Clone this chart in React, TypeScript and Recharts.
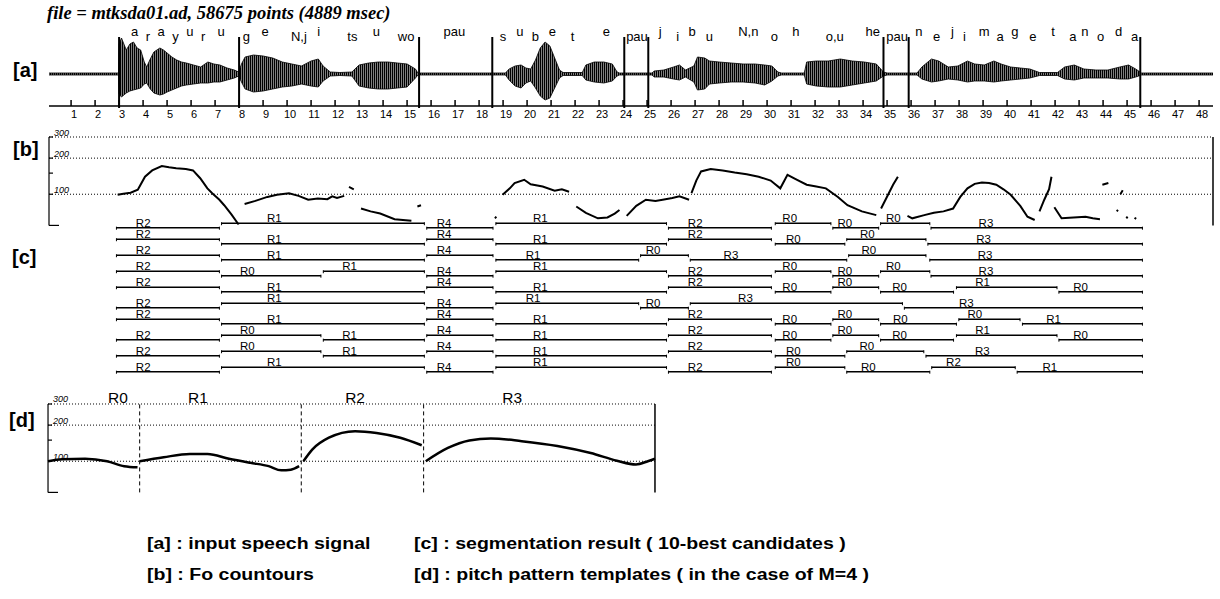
import React from "react";
import {
  ComposedChart,
  Area,
  Line,
  Scatter,
  XAxis,
  YAxis,
  ReferenceLine,
} from "recharts";

const SANS = "'Liberation Sans', Arial, Helvetica, sans-serif";
const SERIF = "'Liberation Serif', 'Times New Roman', serif";

// time axis of the utterance
const timeTicks = [
  1, 2, 3, 4, 5, 6, 7, 8, 9, 10, 11, 12, 13, 14, 15, 16, 17, 18, 19, 20, 21, 22, 23, 24,
  25, 26, 27, 28, 29, 30, 31, 32, 33, 34, 35, 36, 37, 38, 39, 40, 41, 42, 43, 44, 45, 46, 47, 48,
];

// [t, upper, lower] envelope of the speech waveform
const waveEnvelope: [number, number, number][] = [
  [0.08, 1, 1], [2.98, 1, 1], [3.0, 30, 20], [3.1, 36, 23], [3.3, 24, 19], [3.45, 30, 17],
  [3.6, 32, 16], [3.75, 26, 15], [3.9, 24, 14], [4.05, 12, 10], [4.15, 7, 9], [4.3, 15, 15],
  [4.45, 22, 19], [4.7, 26, 21], [4.85, 24, 20], [5.0, 21, 18], [5.2, 17, 16], [5.4, 14, 14],
  [5.6, 12, 12], [5.8, 11, 11], [6.1, 9, 10], [6.4, 7, 9], [6.7, 12, 9], [6.95, 10, 8],
  [7.2, 9, 8], [7.5, 6, 6], [7.8, 4, 4], [7.98, 2, 2],
  [8.1, 10, 8], [8.25, 17, 15], [8.6, 19, 18], [9.0, 18, 17], [9.4, 16, 15], [9.8, 12, 13],
  [10.2, 10, 12], [10.6, 8, 10], [11.0, 13, 12], [11.3, 15, 13], [11.5, 8, 7], [11.8, 2, 2],
  [12.2, 1.5, 1.5], [12.7, 2, 2], [13.0, 9, 12], [13.4, 11, 14], [13.8, 12, 15], [14.2, 12, 15],
  [14.6, 11, 14], [15.0, 10, 13], [15.35, 5, 4], [15.45, 1, 1],
  [19.1, 1, 1], [19.25, 5, 6], [19.5, 8, 12], [19.75, 9, 14], [19.95, 6, 9], [20.15, 5, 7],
  [20.35, 14, 14], [20.55, 26, 22], [20.75, 32, 26], [20.95, 28, 24], [21.15, 16, 14],
  [21.35, 4, 4], [21.5, 1.5, 1.5], [22.3, 1.5, 1.5], [22.45, 9, 6], [22.8, 12, 8], [23.2, 12, 9],
  [23.55, 10, 7], [23.75, 2, 2], [23.85, 1, 1],
  [25.2, 1, 1], [25.3, 3, 3], [25.7, 4, 3], [26.1, 7, 5], [26.35, 9, 6], [26.6, 4, 3],
  [26.95, 8, 8], [27.1, 17, 16], [27.4, 16, 15], [27.6, 13, 10], [28.0, 12, 9], [28.5, 11, 8],
  [29.0, 10, 8], [29.5, 10, 9], [29.9, 9, 11], [30.2, 8, 7], [30.45, 2, 2], [30.6, 1, 1],
  [31.55, 1, 1], [31.65, 12, 10], [32.05, 13, 12], [32.55, 13, 13], [33.05, 15, 13],
  [33.55, 13, 11], [34.05, 12, 9], [34.55, 10, 7], [34.85, 2, 2], [35.0, 1, 1],
  [36.25, 1, 1], [36.45, 7, 5], [36.85, 15, 8], [37.15, 13, 7], [37.55, 7, 5], [37.95, 8, 6],
  [38.35, 13, 8], [38.65, 10, 7], [39.05, 9, 7], [39.45, 13, 8], [39.75, 10, 7], [40.15, 7, 6],
  [40.55, 6, 5], [40.95, 5, 4], [41.35, 1.5, 1.5], [42.1, 1.5, 1.5], [42.4, 7, 5], [42.8, 9, 6],
  [43.2, 5, 4], [43.7, 4, 4], [44.2, 4, 4], [44.7, 7, 5], [45.06, 9, 5], [45.36, 5, 3],
  [45.6, 1, 1], [48.58, 1, 1],
];

// phoneme labels: [text, t, row (1 = upper, 0 = lower)]
const phonemes: [string, number, number][] = [
  ["a", 3.65, 1], ["r", 4.2, 0], ["a", 4.75, 1], ["y", 5.35, 0], ["u", 5.95, 1], ["r", 6.5, 0],
  ["u", 7.25, 1], ["g", 8.3, 0], ["e", 9.09, 1], ["N,j", 10.49, 0], ["i", 11.32, 1],
  ["ts", 12.72, 0], ["u", 13.72, 1], ["wo", 14.96, 0], ["pau", 16.97, 1], ["s", 19.0, 0],
  ["u", 19.7, 1], ["b", 20.35, 0], ["e", 21.05, 1], ["t", 21.9, 0], ["e", 23.3, 1],
  ["pau", 24.58, 0], ["j", 25.55, 1], ["i", 26.28, 0], ["b", 26.88, 1], ["u", 27.6, 0],
  ["N,n", 29.22, 1], ["o", 30.3, 0], ["h", 31.2, 1], ["o,u", 32.82, 0], ["he", 34.4, 1],
  ["pau", 35.42, 0], ["n", 36.32, 1], ["e", 37.06, 0], ["j", 37.72, 1], ["i", 38.22, 0],
  ["m", 39.05, 1], ["a", 39.71, 0], ["g", 40.32, 1], ["e", 41.07, 0], ["t", 41.92, 1],
  ["a", 42.74, 0], ["n", 43.24, 1], ["o", 43.9, 0], ["d", 44.65, 1], ["a", 45.31, 0],
];

const phraseBounds = [3.0, 8.0, 15.5, 18.55, 24.05, 25.05, 34.85, 35.9, 45.55];

// F0 contour [t, Hz]; null breaks the track
const f0Track: ([number, number] | null)[] = [
  [2.94, 99], [3.18, 101], [3.48, 103], [3.78, 109], [4.08, 140], [4.38, 158], [4.78, 172],
  [5.08, 168], [5.38, 165], [5.78, 162], [6.08, 158], [6.38, 136], [6.68, 112], [6.88, 102],
  [7.18, 90], [7.38, 81], [7.68, 68], [7.98, 56], null,
  [8.23, 83], [8.68, 88], [9.18, 95], [9.58, 99], [10.08, 102], [10.48, 97], [10.88, 90],
  [11.28, 92], [11.68, 91], [11.88, 96], [12.08, 93], [12.38, 97], null,
  [12.58, 115], [12.78, 110], null,
  [13.08, 76], [13.48, 72], [13.88, 69], [14.48, 62], [15.18, 60], null,
  [15.43, 79], [15.58, 81], null,
  [18.66, 63], [18.72, 65], null,
  [18.98, 99], [19.28, 112], [19.48, 124], [19.88, 132], [20.15, 121], [20.65, 116],
  [21.15, 107], [21.45, 110], [21.75, 105], null,
  [22.05, 79], [22.45, 70], [22.95, 63], [23.35, 64], [23.65, 69], [23.85, 74], null,
  [24.15, 66], [24.55, 80], [24.95, 90], [25.35, 88], [25.65, 90], [26.05, 93], [26.35, 96],
  [26.75, 90], null,
  [26.85, 102], [27.05, 130], [27.25, 155], [27.65, 162], [28.15, 158], [28.65, 152],
  [29.15, 147], [29.65, 140], [30.15, 130], [30.55, 112], [30.85, 145], [31.25, 132],
  [31.65, 120], [32.05, 116], [32.45, 112], [32.95, 95], [33.35, 81], [33.95, 72], [34.55, 67], null,
  [34.75, 76], [35.05, 100], [35.25, 120], [35.45, 140], null,
  [35.85, 66], [36.05, 63], [36.55, 67], [36.95, 70], [37.35, 72], [37.75, 76], [38.05, 95],
  [38.35, 112], [38.65, 122], [38.95, 125], [39.25, 124], [39.55, 120], [39.85, 110],
  [40.15, 99], [40.55, 80], [40.85, 65], [41.15, 61], null,
  [41.35, 72], [41.55, 90], [41.75, 110], [41.85, 140], null,
  [41.97, 78], [42.27, 63], [42.77, 64], [43.27, 65], [43.57, 63], [43.87, 62], null,
  [43.97, 120], [44.22, 124], null,
  [44.57, 72], [44.62, 74], null,
  [44.72, 100], [44.82, 108], null,
  [44.97, 63], [45.02, 65], null,
  [45.32, 62], [45.37, 64],
];

const hzTicks = [55, 100, 150, 200, 300];
const hzLabels = [100, 200, 300];
const hzGrid = [100, 200, 300];

// 10-best segmentation: [template, start, end]
const nbest: [string, number, number][][] = [
  [["R2", 2.89, 7.18], ["R1", 7.27, 15.72], ["R4", 15.82, 18.58], ["R1", 18.7, 25.81], ["R2", 25.89, 30.18], ["R0", 30.34, 32.66], ["R0", 32.74, 34.65], ["R0", 34.73, 36.78], ["R3", 36.83, 45.64]],
  [["R2", 2.89, 7.18], ["R1", 7.27, 15.72], ["R4", 15.82, 18.58], ["R1", 18.7, 25.81], ["R2", 25.89, 30.18], ["R0", 30.34, 33.24], ["R0", 33.32, 36.62], ["R3", 36.7, 45.64]],
  [["R2", 2.89, 7.18], ["R1", 7.27, 15.72], ["R4", 15.82, 18.58], ["R1", 18.7, 24.65], ["R0", 24.73, 26.72], ["R3", 26.8, 33.32], ["R0", 33.4, 36.62], ["R3", 36.78, 45.64]],
  [["R2", 2.89, 7.18], ["R0", 7.27, 11.41], ["R1", 11.51, 15.72], ["R4", 15.82, 18.58], ["R1", 18.7, 25.81], ["R2", 25.89, 30.18], ["R0", 30.34, 32.66], ["R0", 32.74, 34.65], ["R0", 34.73, 36.78], ["R3", 36.83, 45.64]],
  [["R2", 2.89, 7.18], ["R1", 7.27, 15.72], ["R4", 15.82, 18.58], ["R1", 18.7, 25.81], ["R2", 25.89, 30.18], ["R0", 30.34, 32.66], ["R0", 32.74, 34.65], ["R0", 34.73, 37.77], ["R1", 37.89, 42.08], ["R0", 42.16, 45.64]],
  [["R2", 2.89, 7.18], ["R1", 7.27, 15.72], ["R4", 15.82, 18.58], ["R1", 18.7, 24.65], ["R0", 24.73, 26.72], ["R3", 26.8, 35.64], ["R3", 35.72, 45.64]],
  [["R2", 2.89, 7.18], ["R1", 7.27, 15.72], ["R4", 15.82, 18.58], ["R1", 18.7, 25.81], ["R2", 25.89, 30.18], ["R0", 30.34, 32.66], ["R0", 32.74, 34.65], ["R0", 34.73, 37.89], ["R0", 37.99, 40.54], ["R1", 40.64, 45.64]],
  [["R2", 2.89, 7.18], ["R0", 7.27, 11.41], ["R1", 11.51, 15.72], ["R4", 15.82, 18.58], ["R1", 18.7, 25.81], ["R2", 25.89, 30.18], ["R0", 30.34, 32.66], ["R0", 32.74, 34.65], ["R0", 34.73, 37.77], ["R1", 37.89, 42.08], ["R0", 42.16, 45.64]],
  [["R2", 2.89, 7.18], ["R0", 7.27, 11.41], ["R1", 11.51, 15.72], ["R4", 15.82, 18.58], ["R1", 18.7, 25.81], ["R2", 25.89, 30.18], ["R0", 30.34, 33.24], ["R0", 33.32, 36.53], ["R3", 36.62, 45.64]],
  [["R2", 2.89, 7.18], ["R1", 7.27, 15.72], ["R4", 15.82, 18.58], ["R1", 18.7, 25.81], ["R2", 25.89, 30.18], ["R0", 30.34, 33.24], ["R0", 33.32, 36.78], ["R2", 36.86, 40.34], ["R1", 40.42, 45.64]],
];

// pitch pattern templates [t, Hz]
const templateCurves: ([number, number] | null)[] = [
  [0, 100], [0.6, 104], [1.56, 105], [2.48, 100], [3.2, 91], [3.76, 89], null,
  [3.85, 100], [4.86, 108], [5.96, 115], [6.7, 115], [7.6, 105], [8.5, 97], [9.27, 91], [9.8, 84],
  [10.2, 85], [10.55, 91], null,
  [10.73, 100], [11.1, 125], [11.8, 157], [12.9, 178], [13.8, 172], [14.8, 157], [15.7, 136], null,
  [15.87, 100], [16.8, 129], [17.7, 149], [18.6, 155], [19.9, 147], [21.4, 134], [22.8, 117],
  [23.9, 101], [24.7, 94], [25.2, 100], [25.5, 105],
];
const templateBounds = [3.85, 10.64, 15.78];
const templateNames: [string, number][] = [["R0", 2.94], ["R1", 6.3], ["R2", 12.9], ["R3", 19.5]];

const T_DOMAIN: [number, number] = [0.08, 48.58];

const toPoints = (arr: ([number, number] | null)[]) =>
  arr.map((p, i) => (p ? { t: p[0], y: p[1] } : { t: arr[i - 1]![0], y: null }));

const TimeTick = (props: any) => {
  const { x, y, payload } = props;
  return (
    <g>
      <line x1={x} x2={x} y1={y - 6} y2={y} stroke="#000" strokeWidth={1.5} />
      <text x={x + 3} y={y + 12} textAnchor="middle" fontSize={11} fontFamily={SANS} fill="#000">
        {payload.value}
      </text>
    </g>
  );
};

const HzTick = (props: any) => {
  const { x, y, payload } = props;
  const v = payload.value;
  return (
    <g>
      <line x1={x} x2={x + (v === 55 ? 10 : 4)} y1={y} y2={y} stroke="#000" strokeWidth={1.2} />
      {hzLabels.includes(v) && (
        <text x={x + 5} y={y - 1.5} fontSize={9} fontStyle="italic" fontFamily={SANS} fill="#000">
          {v}
        </text>
      )}
    </g>
  );
};

const TextMark = (size: number, dy: number) => (props: any) => {
  const { cx, cy, payload } = props;
  return (
    <text x={cx} y={cy + dy} textAnchor="middle" fontSize={size} fontFamily={SANS} fill="#000">
      {payload.s}
    </text>
  );
};

const WaveChart = () => {
  const data = waveEnvelope.map(([t, up, down]) => ({ t, range: [-down, up] }));
  const labels = phonemes.map(([s, t, row]) => ({ t, y: row ? 38 : 33, s }));
  return (
    <ComposedChart width={1220} height={125} data={data} margin={{ top: 22, right: 7, bottom: 0, left: 49 }}>
      <defs>
        <pattern id="wavefill" patternUnits="userSpaceOnUse" width={2} height={8}>
          <rect x={0} y={0} width={1.5} height={8} fill="#000" />
        </pattern>
      </defs>
      <XAxis
        dataKey="t"
        type="number"
        domain={T_DOMAIN}
        ticks={timeTicks}
        interval={0}
        height={19}
        tickSize={0}
        tickMargin={0}
        tickLine={false}
        axisLine={{ stroke: "#000", strokeWidth: 1.5 }}
        tick={<TimeTick />}
      />
      <YAxis dataKey="y" type="number" domain={[-32, 52]} hide />
      <Area
        dataKey="range"
        type="linear"
        stroke="#000"
        strokeWidth={0.8}
        fill="url(#wavefill)"
        fillOpacity={1}
        isAnimationActive={false}
        dot={false}
        activeDot={false}
      />
      {phraseBounds.map((t) => (
        <ReferenceLine
          key={t}
          segment={[{ x: t, y: 37 }, { x: t, y: -34 }]}
          ifOverflow="visible"
          stroke="#000"
          strokeWidth={2}
        />
      ))}
      <Scatter data={labels} shape={TextMark(13, 0)} isAnimationActive={false} />
    </ComposedChart>
  );
};

const F0Chart = () => (
  <ComposedChart width={1220} height={106} margin={{ top: 12, right: 7, bottom: 5.6, left: 49 }}>
    <XAxis dataKey="t" type="number" domain={T_DOMAIN} hide />
    <YAxis
      dataKey="y"
      type="number"
      scale="log"
      domain={[55, 300]}
      ticks={hzTicks}
      interval={0}
      mirror
      tickSize={0}
      tickMargin={0}
      tickLine={false}
      axisLine={{ stroke: "#000", strokeWidth: 1.2 }}
      tick={<HzTick />}
    />
    {hzGrid.map((v) => (
      <ReferenceLine key={v} y={v} stroke="#000" strokeWidth={1} strokeDasharray="1 2" />
    ))}
    <ReferenceLine x={48.58} stroke="#000" strokeWidth={1.5} />
    <Line
      data={toPoints(f0Track)}
      dataKey="y"
      type="linear"
      stroke="#000"
      strokeWidth={2}
      dot={false}
      activeDot={false}
      connectNulls={false}
      isAnimationActive={false}
    />
  </ComposedChart>
);

const SegTick = (props: any) => {
  const { cx, cy, index } = props;
  if (cy == null || cx == null) return <g key={index} />;
  return <line key={index} x1={cx} x2={cx} y1={cy - 1} y2={cy + 2} stroke="#000" strokeWidth={1} />;
};

const SegmentChart = () => {
  const labels: { t: number; y: number; s: string }[] = [];
  const rows = nbest.map((segs, r) => {
    const n = segs.length;
    const pts: { t: number; y: number | null }[] = [];
    segs.forEach(([s, a, b], j) => {
      const y = (n - 1 - j) % 2 ? r - 0.28 : r;
      pts.push({ t: a, y }, { t: b, y }, { t: b, y: null });
      labels.push({ t: a + 0.26 * (b - a), y, s });
    });
    return pts;
  });
  return (
    <ComposedChart width={1220} height={185} margin={{ top: 6.7, right: 7, bottom: 2.3, left: 49 }}>
      <XAxis dataKey="t" type="number" domain={T_DOMAIN} hide />
      <YAxis dataKey="y" type="number" domain={[-1, 10]} reversed hide />
      {rows.map((pts, r) => (
        <Line
          key={r}
          data={pts}
          dataKey="y"
          type="linear"
          stroke="#000"
          strokeWidth={1.4}
          dot={<SegTick />}
          activeDot={false}
          connectNulls={false}
          isAnimationActive={false}
        />
      ))}
      <Scatter data={labels} shape={TextMark(11.5, -1.2)} isAnimationActive={false} />
    </ComposedChart>
  );
};

const TemplateChart = () => {
  const names = templateNames.map(([s, t]) => ({ t, y: 300, s }));
  return (
    <ComposedChart width={700} height={117.4} margin={{ top: 24, right: 45, bottom: 5, left: 48 }}>
      <XAxis dataKey="t" type="number" domain={[0, 25.5]} hide />
      <YAxis
        dataKey="y"
        type="number"
        scale="log"
        domain={[55, 300]}
        ticks={hzTicks}
        interval={0}
        mirror
        tickSize={0}
        tickMargin={0}
        tickLine={false}
        axisLine={{ stroke: "#000", strokeWidth: 1.2 }}
        tick={<HzTick />}
      />
      {hzGrid.map((v) => (
        <ReferenceLine key={v} y={v} stroke="#000" strokeWidth={1} strokeDasharray="1 2" />
      ))}
      {templateBounds.map((t) => (
        <ReferenceLine key={t} x={t} stroke="#000" strokeWidth={1} strokeDasharray="4 3" />
      ))}
      <ReferenceLine x={25.5} stroke="#000" strokeWidth={1.5} />
      <Line
        data={toPoints(templateCurves)}
        dataKey="y"
        type="monotone"
        stroke="#000"
        strokeWidth={2.5}
        dot={false}
        activeDot={false}
        connectNulls={false}
        isAnimationActive={false}
      />
      <Scatter data={names} shape={TextMark(15.5, -1)} isAnimationActive={false} />
    </ComposedChart>
  );
};

const abs = (left: number, top: number): React.CSSProperties => ({ position: "absolute", left, top });
const panelLabel: React.CSSProperties = {
  fontFamily: SANS,
  fontWeight: "bold",
  fontSize: 20,
  lineHeight: "20px",
  whiteSpace: "nowrap",
};
const caption: React.CSSProperties = {
  fontFamily: SANS,
  fontWeight: "bold",
  fontSize: 16,
  lineHeight: "16px",
  whiteSpace: "nowrap",
  transform: "scaleX(1.22)",
  transformOrigin: "0 0",
};

export default function App() {
  return (
    <div style={{ position: "absolute", left: 0, top: 0, width: 1220, height: 599, background: "#fff", overflow: "hidden" }}>
      <div style={abs(0, 0)}><WaveChart /></div>
      <div style={abs(0, 125)}><F0Chart /></div>
      <div style={abs(0, 205)}><SegmentChart /></div>
      <div style={abs(0, 380)}><TemplateChart /></div>

      <div style={{ ...abs(47, 3), fontFamily: SERIF, fontStyle: "italic", fontWeight: "bold", fontSize: 18.5, lineHeight: "21px", whiteSpace: "nowrap" }}>
        file = mtksda01.ad, 58675 points (4889 msec)
      </div>
      <div style={{ ...abs(13, 60), ...panelLabel }}>[a]</div>
      <div style={{ ...abs(13, 139), ...panelLabel }}>[b]</div>
      <div style={{ ...abs(12, 247), ...panelLabel }}>[c]</div>
      <div style={{ ...abs(9, 410), ...panelLabel }}>[d]</div>

      <div style={{ ...abs(147, 536), ...caption }}>[a] : input speech signal</div>
      <div style={{ ...abs(414, 536), ...caption }}>[c] : segmentation result ( 10-best candidates )</div>
      <div style={{ ...abs(147, 567), ...caption }}>[b] : Fo countours</div>
      <div style={{ ...abs(414, 567), ...caption }}>[d] : pitch pattern templates ( in the case of M=4 )</div>
    </div>
  );
}
